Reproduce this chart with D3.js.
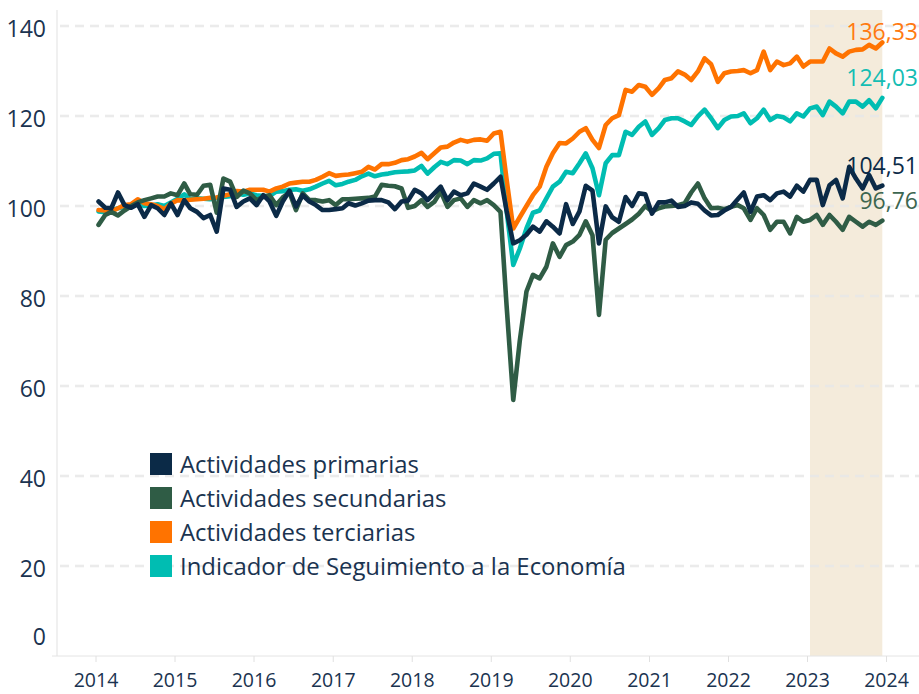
<!DOCTYPE html>
<html><head><meta charset="utf-8">
<script src="https://cdn.jsdelivr.net/npm/d3@7"></script>
<style>html,body{margin:0;padding:0;background:#fff;}svg{display:block;font-family:'Open Sans',sans-serif;}</style>
</head><body>
<svg id="chart" width="919" height="694"></svg>
<script>
// ---- Data (monthly, Jan 2014 – Dec 2023) ----
const startYear = 2014;
const seriesNames = ["Actividades primarias","Actividades secundarias","Actividades terciarias","Indicador de Seguimiento a la Economía"];
const primarias = [
101.0,99.6,99.5,103.0,100.2,99.6,100.4,97.6,100.2,99.5,98.0,100.6,
98.0,101.3,99.5,98.7,97.3,98.0,94.3,103.9,103.6,99.8,101.0,101.7,
100.2,102.4,101.0,97.8,101.0,103.4,99.9,102.4,101.0,100.2,99.1,99.1,
99.3,99.5,100.6,100.1,100.6,101.2,101.3,101.3,100.8,99.3,101.0,101.2,
103.6,102.8,101.3,102.8,104.3,101.3,103.2,102.4,102.8,105.0,104.3,103.6,
105.0,106.5,99.0,91.7,92.4,93.6,95.4,94.3,96.6,95.4,93.9,100.4,
96.0,98.8,104.5,103.4,91.7,99.9,97.5,96.5,102.0,100.0,102.8,102.6,
98.3,100.8,100.8,101.2,99.8,100.0,100.8,100.5,99.0,97.9,98.0,99.0,
99.8,101.5,103.0,98.7,102.1,102.4,101.3,102.8,103.2,102.1,104.5,103.2,
105.8,105.8,100.2,104.6,105.8,101.7,108.7,106.1,103.9,106.9,103.9,104.51];
const secundarias = [
95.8,98.0,98.7,97.9,99.0,100.0,100.8,101.3,101.7,102.1,102.1,102.8,
102.4,105.0,102.6,102.5,104.5,104.7,98.5,106.1,105.4,102.0,103.4,102.8,
101.3,102.0,102.4,100.2,101.9,103.0,99.1,102.8,101.3,101.3,101.0,101.3,
100.2,101.5,101.5,101.6,101.7,101.8,102.1,104.7,104.5,104.4,103.9,99.6,
100.0,101.3,99.8,100.9,103.2,99.8,101.3,101.7,99.8,101.3,100.6,101.3,
100.2,98.7,78.0,56.9,70.0,81.0,84.7,83.9,86.5,91.7,88.7,91.3,
92.1,93.6,96.6,93.5,75.8,92.5,94.0,95.0,96.0,97.0,98.3,100.0,
98.8,99.5,99.9,100.0,100.2,100.6,103.0,105.0,101.7,99.5,99.6,99.3,
99.8,100.2,99.5,96.9,99.5,98.0,94.7,96.5,96.5,93.9,97.6,96.5,
96.9,98.0,95.8,98.0,96.5,94.7,97.6,96.5,95.4,96.5,95.8,96.76];
const terciarias = [
99.1,99.0,98.8,99.5,100.2,100.4,101.5,100.6,100.4,100.0,99.3,100.5,
101.3,101.2,101.4,101.5,101.6,101.8,101.9,102.3,102.6,103.3,103.2,103.6,
103.6,103.6,103.2,103.9,104.3,105.0,105.2,105.4,105.4,105.8,106.5,107.3,
106.7,106.9,107.0,107.3,107.6,108.7,108.1,109.3,109.3,109.6,110.2,110.4,
111.0,111.8,110.4,111.7,113.0,113.2,114.1,114.7,114.3,114.7,114.8,114.5,
116.1,116.5,106.0,95.0,97.5,100.0,102.4,104.3,108.7,111.7,114.0,113.9,
115.0,116.5,117.3,114.7,112.9,118.0,119.5,120.2,125.8,125.4,126.9,126.5,
124.7,126.2,128.0,128.4,129.9,129.2,128.0,129.9,132.8,131.5,127.6,129.5,
129.9,130.0,130.2,129.5,130.2,134.3,130.2,132.1,131.3,131.7,133.2,131.0,
132.1,132.1,132.1,135.0,133.9,133.2,134.3,134.7,134.8,135.8,135.0,136.33];
const ise = [
98.8,98.6,99.0,99.5,99.8,99.9,100.6,100.0,100.1,100.4,100.0,100.8,
101.6,102.6,101.5,101.7,101.6,101.5,101.8,102.0,102.2,102.8,102.5,102.8,
102.4,102.2,102.2,103.2,103.3,103.6,103.7,103.4,103.7,104.3,105.0,105.6,
104.6,104.9,105.4,105.8,106.6,107.2,106.6,107.0,107.2,107.5,107.6,107.7,
107.9,108.9,107.2,108.6,109.8,109.3,110.2,110.1,109.3,110.2,110.1,110.6,
111.6,111.7,99.0,86.9,90.5,95.0,98.5,99.0,101.7,104.3,105.4,107.6,
107.3,109.5,111.7,108.4,102.4,109.5,111.3,111.3,116.5,115.8,117.6,118.8,
115.8,117.3,119.1,119.5,119.5,118.8,118.0,119.9,121.4,119.5,117.3,119.1,
119.9,120.0,120.6,118.4,119.5,121.4,119.1,120.0,119.7,118.8,120.6,119.9,
121.7,122.1,120.2,123.2,122.1,120.6,123.2,123.2,122.1,123.5,121.7,124.03];
const endLabels = ["104,51","96,76","136,33","124,03"];
const yTicks = [0,20,40,60,80,100,120,140];
const xTickYears = [2014,2015,2016,2017,2018,2019,2020,2021,2022,2023,2024];
const highlightYear = 2023;

// ---- Styles ----
const colors = ["#0b2a47","#2f5c45","#ff7300","#00bdb2"];
const labelColors = ["#0b2a47","#3d6650","#ff7a10","#14bdb3"];
const textColor = "#1a3350";

const svg = d3.select("#chart");
const W = 919, H = 694;
const x = d3.scaleTime().domain([new Date(2014,0,1), new Date(2024,0,1)]).range([95.5, 886]);
const y = d3.scaleLinear().domain([0,140]).range([656, 26]);
const dates = primarias.map((_, i) => new Date(startYear, i, 15));
const all = [primarias, secundarias, terciarias, ise];

// highlight band
svg.append("rect")
  .attr("x", x(new Date(highlightYear,0,15)))
  .attr("y", 10)
  .attr("width", x(new Date(highlightYear,11,15)) - x(new Date(highlightYear,0,15)))
  .attr("height", y(0) - 10)
  .attr("fill", "#f4ebdb");

// left vertical line
svg.append("line").attr("x1",57).attr("x2",57).attr("y1",10).attr("y2",y(0))
  .attr("stroke","#f0f0f0").attr("stroke-width",2);

// gridlines
svg.append("g").selectAll("line").data(yTicks.filter(t => t > 0)).join("line")
  .attr("x1", 60).attr("x2", W).attr("y1", d => y(d)).attr("y2", d => y(d))
  .attr("stroke", "#e8e8e8").attr("stroke-width", 2.5).attr("stroke-dasharray", "9,6")
  .attr("opacity", 0.85);

// x baseline and ticks
svg.append("line").attr("x1",52).attr("x2",W).attr("y1",y(0)).attr("y2",y(0))
  .attr("stroke","#e4e4e4").attr("stroke-width",1);
const xAxis = d3.axisBottom(x)
  .tickValues(xTickYears.map(yr => new Date(yr,0,1)))
  .tickFormat(d3.timeFormat("%Y"))
  .tickSize(6).tickPadding(11);
const gx = svg.append("g").attr("transform", `translate(0,${y(0)})`).call(xAxis);
gx.select(".domain").remove();
gx.selectAll(".tick line").attr("stroke","#e0e0e0");
gx.selectAll(".tick text").attr("fill", textColor).attr("font-size", 19.5)
  .attr("font-family","'Open Sans',sans-serif");

// y axis labels
const yAxis = d3.axisLeft(y).tickValues(yTicks).tickSize(0).tickPadding(0);
const gy = svg.append("g").attr("transform","translate(46,0)").call(yAxis);
gy.select(".domain").remove();
gy.selectAll(".tick text").attr("fill", textColor).attr("font-size", 23)
  .attr("font-family","'Open Sans',sans-serif")
  .attr("dy", d => d === 0 ? "-0.5em" : "0.45em");

// lines
const line = d3.line().x((d,i) => x(dates[i])).y(d => y(d)).curve(d3.curveLinear);
const order = [3,2,1,0];
order.forEach(k => {
  svg.append("path").datum(all[k]).attr("d", line)
    .attr("fill","none").attr("stroke", colors[k]).attr("stroke-width", 4.6)
    .attr("stroke-linejoin","round").attr("stroke-linecap","round");
});

// end labels
all.forEach((s, k) => {
  const v = s[s.length - 1];
  const xe = W - 1;
  const yb = Math.max(y(v) - 12, 40);
  svg.append("text").attr("x", xe).attr("y", yb).attr("text-anchor","end")
    .attr("font-size", 23).attr("fill", labelColors[k]).text(endLabels[k]);
});

// legend
const lg = svg.append("g");
seriesNames.forEach((name, k) => {
  const cy = 464 + k * 34;
  lg.append("rect").attr("x",150).attr("y",cy - 11).attr("width",22).attr("height",22).attr("fill",colors[k]);
  lg.append("text").attr("x",180).attr("y",cy).attr("dy","0.36em")
    .attr("font-size",23.9).attr("fill",textColor).text(name);
});
</script>
</body></html>
